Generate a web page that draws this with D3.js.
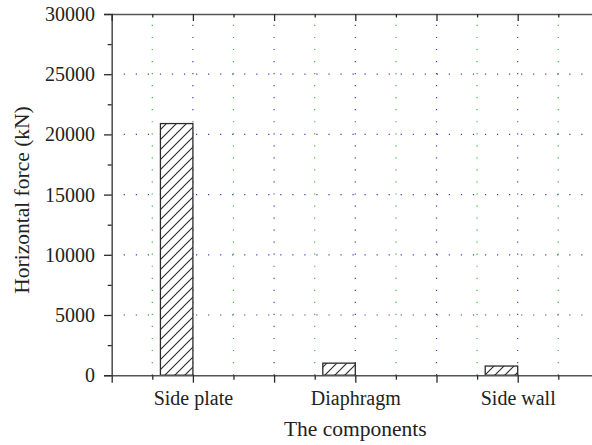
<!DOCTYPE html>
<html>
<head>
<meta charset="utf-8">
<script src="https://cdn.jsdelivr.net/npm/d3@7"></script>
<style>
  html, body { margin: 0; padding: 0; background: #fff; }
  svg { display: block; font-family: "Liberation Serif", "DejaVu Serif", serif; }
</style>
</head>
<body>
<svg id="chart" width="592" height="445"></svg>
<script>
// Component names, their slot on the x axis, and the horizontal force on each (kN)
const components = ["Side plate", "Diaphragm", "Side wall"];
const slots = [1, 3, 5];
const forces = [20900, 1000, 760];

// Axis ticks
const yMajor = [0, 5000, 10000, 15000, 20000, 25000, 30000];
const yMinor = [2500, 7500, 12500, 17500, 22500, 27500];
const xMajor = [0, 1, 2, 3, 4, 5, 6];
const xMinor = [0.5, 1.5, 2.5, 3.5, 4.5, 5.5];

(function draw() {
  const svg = d3.select("#chart");
  const plotLeft = 111.7, plotTop = 14, plotBottom = 375.2;
  const x = d3.scaleLinear().domain([0, 6]).range([plotLeft, plotLeft + 6 * 81.2]);
  const y = d3.scaleLinear().domain([0, 30000]).range([plotBottom, plotTop]);
  const barWidth = 0.4;
  const ink = "#2a2a2a";

  // Hatch fill for the bars
  const pat = svg.append("defs").append("pattern")
    .attr("id", "hatch")
    .attr("patternUnits", "userSpaceOnUse")
    .attr("width", 10).attr("height", 10);
  pat.append("rect").attr("width", 10).attr("height", 10).attr("fill", "#fff");
  pat.append("path")
    .attr("d", "M-1,1 l2,-2 M0,10 l10,-10 M9,11 l2,-2")
    .attr("stroke", ink).attr("stroke-width", 1.1);

  // Dotted grid: blue at major positions, green at minor x positions
  const dots = "1.2 10.84";
  const grid = svg.append("g");
  grid.selectAll("line.hgrid").data(yMajor.filter(v => v > 0 && v < 30000)).join("line")
    .attr("class", "hgrid")
    .attr("x1", plotLeft).attr("x2", 600)
    .attr("y1", d => y(d)).attr("y2", d => y(d))
    .attr("stroke", "#3b3bd0").attr("stroke-width", 1.2)
    .attr("stroke-dasharray", dots);
  grid.selectAll("line.vmaj").data(xMajor.filter(v => v > 0)).join("line")
    .attr("class", "vmaj")
    .attr("x1", d => x(d)).attr("x2", d => x(d))
    .attr("y1", plotBottom).attr("y2", plotTop)
    .attr("stroke", "#3b3bd0").attr("stroke-width", 1.2)
    .attr("stroke-dasharray", dots);
  grid.selectAll("line.vmin").data(xMinor).join("line")
    .attr("class", "vmin")
    .attr("x1", d => x(d)).attr("x2", d => x(d))
    .attr("y1", plotBottom).attr("y2", plotTop)
    .attr("stroke", "#2fc22f").attr("stroke-width", 1.2)
    .attr("stroke-dasharray", dots);

  // Bars, right edge on each component's slot
  svg.append("g").selectAll("rect").data(forces).join("rect")
    .attr("x", (d, i) => x(slots[i] - barWidth))
    .attr("width", x(barWidth) - x(0))
    .attr("y", d => y(d))
    .attr("height", d => y(0) - y(d))
    .attr("fill", "url(#hatch)")
    .attr("stroke", ink).attr("stroke-width", 1.3);

  function styleAxis(g) {
    g.selectAll("path.domain").attr("stroke", "#555").attr("stroke-width", 1.6);
    g.selectAll(".tick line").attr("stroke", ink).attr("stroke-width", 1.3);
    g.selectAll(".tick text").attr("fill", "#222").attr("font-size", 20)
      .attr("font-family", "Liberation Serif, DejaVu Serif, serif");
  }

  // Left axis
  svg.append("g").attr("transform", `translate(${plotLeft},0)`)
    .call(d3.axisLeft(y).tickValues(yMajor).tickSize(7.7).tickPadding(9).tickFormat(d3.format("d")))
    .call(styleAxis);
  svg.append("g").attr("transform", `translate(${plotLeft},0)`)
    .call(d3.axisLeft(y).tickValues(yMinor).tickSize(4).tickFormat(""))
    .call(styleAxis)
    .select("path.domain").remove();

  // Bottom axis, labelled at the component slots
  const slotName = new Map(slots.map((s, i) => [s, components[i]]));
  const xEnd = 600;
  const xFull = x.copy().domain([0, x.invert(xEnd)]).range([plotLeft, xEnd]);
  svg.append("g").attr("transform", `translate(0,${plotBottom})`)
    .call(d3.axisBottom(xFull).tickValues(xMajor).tickSize(7.5).tickPadding(8.5)
      .tickSizeOuter(0).tickFormat(d => slotName.get(d) || ""))
    .call(styleAxis);
  svg.append("g").attr("transform", `translate(0,${plotBottom})`)
    .call(d3.axisBottom(xFull).tickValues(xMinor).tickSize(4.5).tickFormat(""))
    .call(styleAxis)
    .select("path.domain").remove();

  // Top frame with inward ticks
  svg.append("g").attr("transform", `translate(0,${plotTop})`)
    .call(d3.axisBottom(xFull).tickValues(xMajor).tickSize(7).tickSizeOuter(0).tickFormat(""))
    .call(styleAxis);
  svg.append("g").attr("transform", `translate(0,${plotTop})`)
    .call(d3.axisBottom(xFull).tickValues(xMinor).tickSize(3.5).tickFormat(""))
    .call(styleAxis)
    .select("path.domain").remove();

  // Axis titles
  svg.append("text")
    .attr("x", x(3)).attr("y", 436)
    .attr("text-anchor", "middle")
    .attr("font-size", 21.5).attr("fill", "#222")
    .text("The components");
  svg.append("text")
    .attr("transform", "translate(29,200) rotate(-90)")
    .attr("text-anchor", "middle")
    .attr("font-size", 21.5).attr("fill", "#222")
    .text("Horizontal force (kN)");
})();
</script>
</body>
</html>
